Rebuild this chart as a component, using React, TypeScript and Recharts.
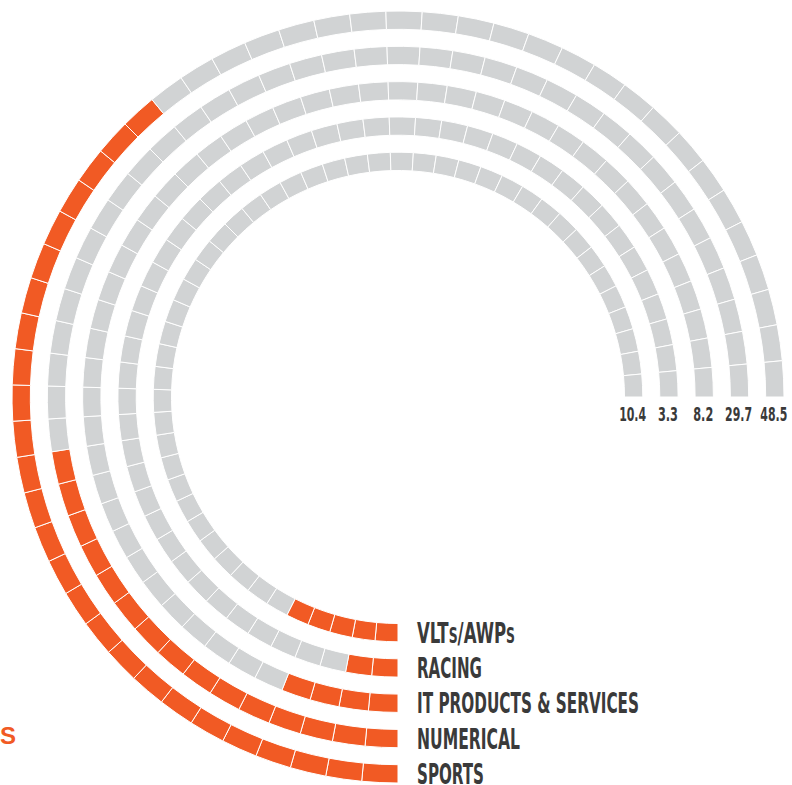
import { PieChart, Pie, Cell } from 'recharts';

// rings from the inside out
const categories = ['VLTs/AWPs', 'RACING', 'IT PRODUCTS & SERVICES', 'NUMERICAL', 'SPORTS'];
const shares = [10.4, 3.3, 8.2, 29.7, 48.5];
// orange blocks counted on each ring of the picture
const filledSegments = [5, 2, 4, 15, 26];
const SEGMENTS = 50;

const ORANGE = '#F15A24';
const GRAY = '#D1D3D4';
const TEXT = '#3A3A3A';
const CX = 398;
const CY = 397;
const FIRST_RADIUS = 227;
const RING_PITCH = 35.3;
const RING_WIDTH = 17.3;
const labelWidths = [98, 65, 222, 103, 67];
const FONT = '"Liberation Sans Narrow", "DejaVu Sans Condensed", sans-serif';

const ringData = (i: number) =>
    Array.from({ length: SEGMENTS }, (_, k) => ({
        segment: k + 1,
        value: 1,
        filled: k < filledSegments[i],
    }));

// lowercase letters are set as small caps, like "VLTs"
const smallCaps = (s: string) =>
    s.split('').map((ch, k) =>
        ch !== ch.toUpperCase() ? (
            <tspan key={k} fontSize={21}>{ch.toUpperCase()}</tspan>
        ) : (
            ch
        )
    );

const renderLabel = (i: number) => (props: any) => {
    const { cx, cy, innerRadius, outerRadius, index } = props;
    const mid = (innerRadius + outerRadius) / 2;
    if (index === SEGMENTS - 1) {
        return (
            <text
                key={`v${i}`}
                x={cx + mid - 1}
                y={cy + 24}
                textAnchor="middle"
                fill={TEXT}
                fontFamily={FONT}
                fontWeight={700}
                fontSize={19.5}
                textLength={i === 1 || i === 2 ? 20 : 27}
                lengthAdjust="spacingAndGlyphs"
            >
                {shares[i]}
            </text>
        );
    }
    if (index === 0) {
        return (
            <text
                key={`c${i}`}
                x={cx + 19}
                y={cy + mid + 10}
                fill={TEXT}
                fontFamily={FONT}
                fontWeight={700}
                fontSize={28}
                textLength={labelWidths[i]}
                lengthAdjust="spacingAndGlyphs"
            >
                {smallCaps(categories[i])}
            </text>
        );
    }
    return null;
};

export default function App() {
    return (
        <div style={{ position: 'absolute', left: 0, top: 0, width: 792, height: 785, background: '#fff', overflow: 'hidden' }}>
            <PieChart width={792} height={785} margin={{ top: 0, right: 0, bottom: 0, left: 0 }}>
                {categories.map((name, i) => {
                    const inner = FIRST_RADIUS + i * RING_PITCH;
                    return (
                        <Pie
                            key={name}
                            data={ringData(i)}
                            dataKey="value"
                            nameKey="segment"
                            cx={CX}
                            cy={CY}
                            startAngle={270}
                            endAngle={0}
                            innerRadius={inner - 0.5}
                            outerRadius={inner + RING_WIDTH + 0.5}
                            paddingAngle={0}
                            stroke="#FFFFFF"
                            strokeWidth={1}
                            label={renderLabel(i)}
                            labelLine={false}
                            isAnimationActive={false}
                        >
                            {ringData(i).map((d) => (
                                <Cell key={d.segment} fill={d.filled ? ORANGE : GRAY} />
                            ))}
                        </Pie>
                    );
                })}
            </PieChart>
            <svg width={792} height={785} style={{ position: 'absolute', left: 0, top: 0, pointerEvents: 'none' }}>
                <text x={16} y={744} textAnchor="end" fill={ORANGE} fontFamily='"Liberation Sans", Arial, sans-serif' fontWeight={700} fontSize={24}>
                    ES
                </text>
            </svg>
        </div>
    );
}
